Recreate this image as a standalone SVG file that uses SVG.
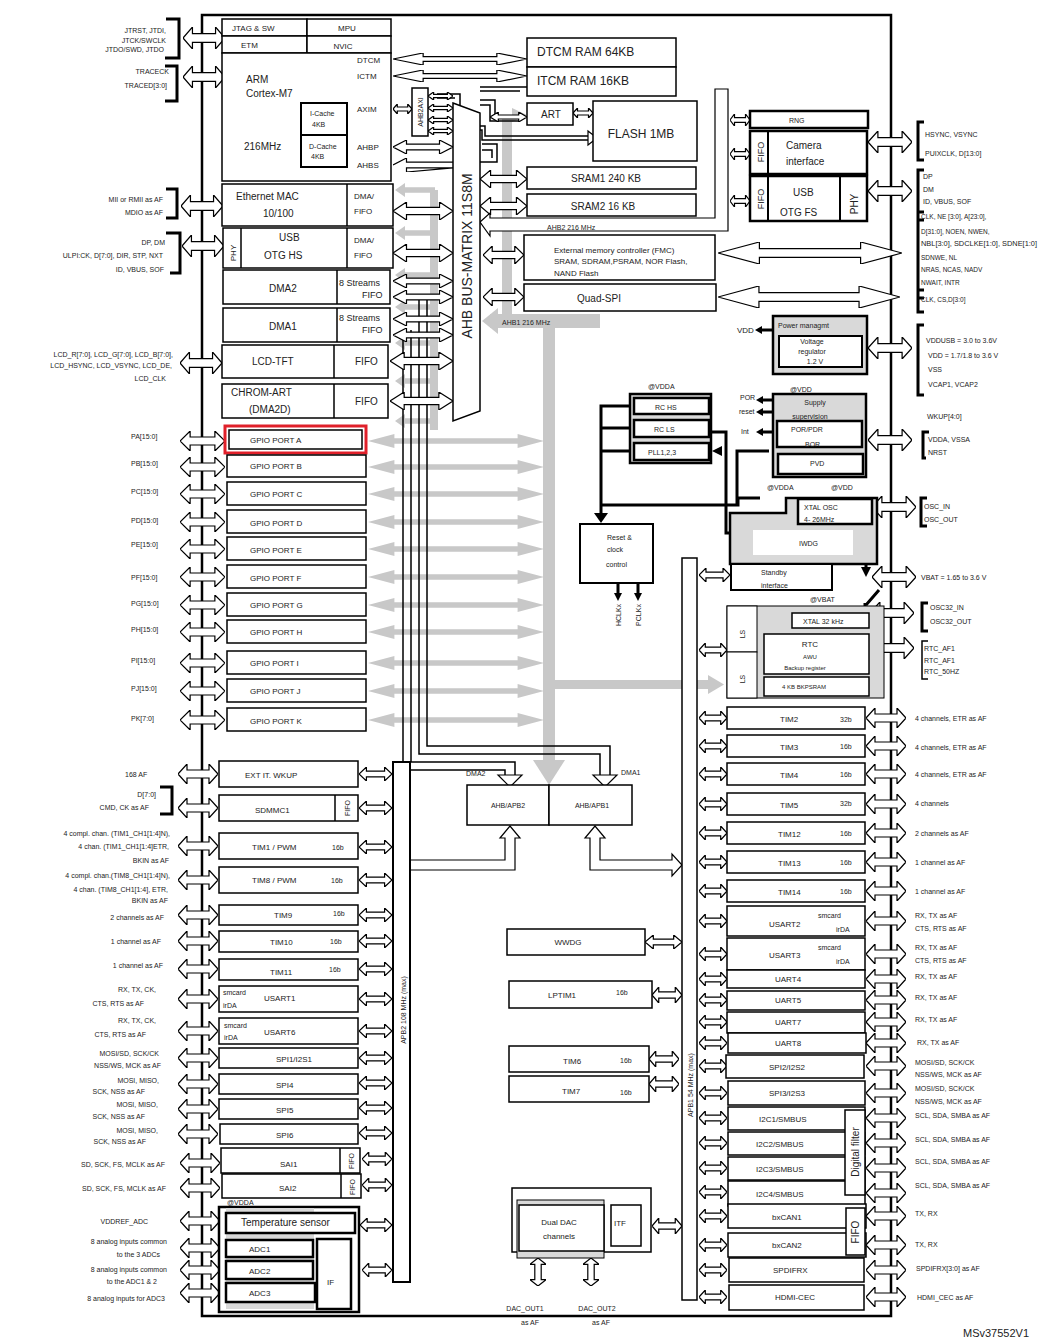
<svg xmlns="http://www.w3.org/2000/svg" xmlns:xlink="http://www.w3.org/1999/xlink" width="1041" height="1341" viewBox="0 0 1041 1341" font-size="8">
<style>
.b{fill:#fff;stroke:#000;stroke-width:1.5}
.bb{fill:#fff;stroke:#000;stroke-width:2.5}
.g{fill:#d9d9d9;stroke:#000;stroke-width:2.5}
.gr{fill:#c8c8c8;stroke:none}
.l{fill:none;stroke:#000;stroke-width:1.5}
.lk{fill:none;stroke:#000;stroke-width:3}
text{font-family:"Liberation Sans",Arial,sans-serif;fill:#222}
.m{font-size:10px}
.n{font-size:12px}
.c{text-anchor:middle}
.e{text-anchor:end}
</style>
<defs>
<symbol id="da" viewBox="0 0 40 20" preserveAspectRatio="none"><path d="M0,10 L9,0 L9,6 L31,6 L31,0 L40,10 L31,20 L31,14 L9,14 L9,20 Z" fill="#fff" stroke="#000" stroke-width="1.2" vector-effect="non-scaling-stroke"/></symbol>
<symbol id="dv" viewBox="0 0 20 40" preserveAspectRatio="none"><path d="M10,0 L0,9 L6,9 L6,31 L0,31 L10,40 L20,31 L14,31 L14,9 L20,9 Z" fill="#fff" stroke="#000" stroke-width="1.2" vector-effect="non-scaling-stroke"/></symbol>
<symbol id="ga" viewBox="0 0 40 20" preserveAspectRatio="none"><path d="M0,10 L6,0 L6,6 L34,6 L34,0 L40,10 L34,20 L34,14 L6,14 L6,20 Z" fill="#c8c8c8"/></symbol>
<symbol id="gl" viewBox="0 0 40 20" preserveAspectRatio="none"><path d="M0,10 L10,0 L10,6 L40,6 L40,14 L10,14 L10,20 Z" fill="#c8c8c8"/></symbol>
<symbol id="la" viewBox="0 0 40 20" preserveAspectRatio="none"><path d="M0,10 L9,0 L9,6 L40,6 M40,14 L9,14 L9,20 Z" fill="#fff" stroke="#000" stroke-width="1.2" vector-effect="non-scaling-stroke"/></symbol>
</defs>

<g id="chip"><rect x="202" y="15" width="689" height="1301" fill="none" stroke="#000" stroke-width="2.5"/></g>

<g id="connectors">
<rect class="gr" x="543" y="320" width="12" height="440"/>
<path class="gr" d="M533,760 L565,760 L549,785 Z"/>
<rect class="gr" x="502" y="118" width="10" height="206"/>
<rect class="gr" x="490" y="314" width="110" height="14"/>
<path class="gr" d="M482,321 L498,308 L498,334 Z"/>
<path class="gr" d="M512,108 L527,115 L512,122 Z"/>
<rect class="gr" x="430" y="190" width="8" height="240"/>
<use href="#gl" x="395" y="183" width="40" height="14"/>
<use href="#gl" x="395" y="226" width="40" height="14"/>
<use href="#gl" x="395" y="268" width="40" height="14"/>
<use href="#gl" x="395" y="300" width="40" height="14"/>
<use href="#gl" x="395" y="336" width="40" height="14"/>
<use href="#gl" x="395" y="374" width="40" height="14"/>
<use href="#gl" x="395" y="414" width="40" height="14"/>
<rect class="gr" x="555" y="680" width="155" height="9"/>
<path class="gr" d="M708,675 L724,684.5 L708,694 Z"/>
<use href="#ga" x="368" y="434" width="176" height="14"/>
<use href="#ga" x="368" y="460" width="176" height="14"/>
<use href="#ga" x="368" y="487" width="176" height="14"/>
<use href="#ga" x="368" y="515" width="176" height="14"/>
<use href="#ga" x="368" y="542" width="176" height="14"/>
<use href="#ga" x="368" y="570" width="176" height="14"/>
<use href="#ga" x="368" y="598" width="176" height="14"/>
<use href="#ga" x="368" y="625" width="176" height="14"/>
<use href="#ga" x="368" y="656" width="176" height="14"/>
<use href="#ga" x="368" y="684" width="176" height="14"/>
<use href="#ga" x="368" y="713" width="176" height="14"/>
<path class="l" d="M403,330 V770 H505 V775"/>
<path class="l" d="M411,330 V762 H515 V775"/>
<path class="l" d="M419,300 V754 H600 V775"/>
<path class="l" d="M427,300 V746 H610 V775"/>
<path d="M498,775 L522,775 L510,787 Z M593,775 L617,775 L605,787 Z" fill="#fff" stroke="#000" stroke-width="1.2"/>
<path d="M410,860 L505,860 L505,838 L500,838 L510,826 L520,838 L515,838 L515,870 L410,870 Z" fill="#fff" stroke="#000" stroke-width="1.2"/>
<path d="M590,838 L585,838 L595,826 L605,838 L600,838 L600,860 L672,860 L672,854 L682,865 L672,876 L672,870 L590,870 Z" fill="#fff" stroke="#000" stroke-width="1.2"/>
<use href="#da" x="393" y="53" width="134" height="12"/>
<use href="#da" x="393" y="70" width="134" height="12"/>
<path class="l" d="M480,87 H527 M480,91 H520"/>
<path class="l" d="M437,94 H460 V108 M437,98 H455"/>
<use href="#da" x="393" y="104" width="19" height="10"/>
<use href="#da" x="428" y="92" width="25" height="8"/>
<use href="#da" x="428" y="104" width="25" height="8"/>
<use href="#da" x="428" y="116" width="25" height="8"/>
<use href="#da" x="428" y="127" width="25" height="8"/>
<path class="l" d="M480,100 H495 V117 H525 M480,105 H490 V121 H520"/>
<use href="#da" x="490" y="112" width="37" height="10"/>
<path class="l" d="M480,126 H485 V136 H590 M480,130 H482 V140 H590"/>
<path d="M588,131 L597,138 L588,145 Z" fill="#fff" stroke="#000" stroke-width="1.2"/>
<use href="#da" x="573" y="108" width="20" height="10"/>
<use href="#da" x="393" y="140" width="60" height="14"/>
<use href="#la" x="393" y="158" width="60" height="14"/>
<path class="l" d="M482,144 H497 V162 H453 M482,150 H492 V158"/>
<use href="#da" x="480" y="170" width="47" height="18"/>
<use href="#da" x="480" y="197" width="47" height="18"/>
<path d="M480,222 L490,213 L490,218 L715,218 L715,89 L728,89 L728,231 L490,231 L490,236 Z" fill="#fff" stroke="#000" stroke-width="1.2"/>
<use href="#da" x="483" y="246" width="41" height="18"/>
<use href="#da" x="483" y="288" width="41" height="18"/>
<use href="#da" x="393" y="202" width="60" height="18"/>
<use href="#da" x="393" y="244" width="60" height="18"/>
<use href="#da" x="393" y="274" width="60" height="14"/>
<use href="#da" x="393" y="290" width="60" height="14"/>
<use href="#da" x="393" y="312" width="60" height="14"/>
<use href="#da" x="393" y="328" width="60" height="14"/>
<use href="#da" x="390" y="352" width="63" height="18"/>
<use href="#da" x="390" y="392" width="63" height="18"/>
<use href="#da" x="730" y="114" width="20" height="12"/>
<use href="#da" x="730" y="148" width="20" height="12"/>
<use href="#da" x="730" y="195" width="20" height="12"/>
<use href="#da" x="868" y="131" width="44" height="22"/>
<use href="#da" x="868" y="180" width="44" height="22"/>
<use href="#da" x="718" y="242" width="184" height="22"/>
<use href="#da" x="718" y="286" width="182" height="22"/>
<use href="#da" x="868" y="337" width="44" height="22"/>
<use href="#da" x="868" y="429" width="44" height="22"/>
<use href="#da" x="872" y="496" width="44" height="22"/>
<use href="#da" x="872" y="566" width="44" height="22"/>
<use href="#da" x="870" y="602" width="44" height="22"/>
<use href="#da" x="870" y="637" width="44" height="22"/>
<use href="#da" x="866" y="708" width="40" height="20"/>
<use href="#da" x="866" y="736" width="40" height="20"/>
<use href="#da" x="866" y="764" width="40" height="20"/>
<use href="#da" x="866" y="794" width="40" height="20"/>
<use href="#da" x="866" y="823" width="40" height="20"/>
<use href="#da" x="866" y="852" width="40" height="20"/>
<use href="#da" x="866" y="881" width="40" height="20"/>
<use href="#da" x="866" y="911" width="40" height="20"/>
<use href="#da" x="866" y="944" width="40" height="20"/>
<use href="#da" x="866" y="969" width="40" height="20"/>
<use href="#da" x="866" y="990" width="40" height="20"/>
<use href="#da" x="866" y="1012" width="40" height="20"/>
<use href="#da" x="866" y="1033" width="40" height="20"/>
<use href="#da" x="866" y="1056" width="40" height="20"/>
<use href="#da" x="866" y="1083" width="40" height="20"/>
<use href="#da" x="866" y="1108" width="40" height="20"/>
<use href="#da" x="866" y="1133" width="40" height="20"/>
<use href="#da" x="866" y="1158" width="40" height="20"/>
<use href="#da" x="866" y="1183" width="40" height="20"/>
<use href="#da" x="866" y="1206" width="40" height="20"/>
<use href="#da" x="866" y="1235" width="40" height="20"/>
<use href="#da" x="866" y="1260" width="40" height="20"/>
<use href="#da" x="866" y="1287" width="40" height="20"/>
<use href="#da" x="699" y="568" width="31" height="14"/>
<use href="#da" x="699" y="643" width="28" height="14"/>
<g id="apb1arrows">
<use href="#da" x="699" y="711" width="28" height="14"/><use href="#da" x="699" y="739" width="28" height="14"/>
<use href="#da" x="699" y="767" width="28" height="14"/><use href="#da" x="699" y="797" width="28" height="14"/>
<use href="#da" x="699" y="826" width="28" height="14"/><use href="#da" x="699" y="855" width="28" height="14"/>
<use href="#da" x="699" y="884" width="28" height="14"/><use href="#da" x="699" y="914" width="28" height="14"/>
<use href="#da" x="699" y="947" width="28" height="14"/><use href="#da" x="699" y="972" width="28" height="14"/>
<use href="#da" x="699" y="993" width="28" height="14"/><use href="#da" x="699" y="1015" width="28" height="14"/>
<use href="#da" x="699" y="1036" width="28" height="14"/><use href="#da" x="699" y="1059" width="28" height="14"/>
<use href="#da" x="699" y="1086" width="28" height="14"/><use href="#da" x="699" y="1111" width="28" height="14"/>
<use href="#da" x="699" y="1136" width="28" height="14"/><use href="#da" x="699" y="1161" width="28" height="14"/>
<use href="#da" x="699" y="1185" width="28" height="14"/><use href="#da" x="699" y="1209" width="28" height="14"/>
<use href="#da" x="699" y="1238" width="28" height="14"/><use href="#da" x="699" y="1263" width="28" height="14"/>
<use href="#da" x="699" y="1290" width="28" height="14"/>
</g>
<use href="#da" x="645" y="935" width="37" height="14"/>
<use href="#da" x="652" y="987" width="30" height="16"/>
<use href="#da" x="649" y="1051" width="30" height="16"/>
<use href="#da" x="649" y="1076" width="30" height="16"/>
<use href="#da" x="652" y="1218" width="30" height="16"/>
<use href="#dv" x="530" y="1258" width="16" height="28"/>
<use href="#dv" x="583" y="1258" width="16" height="28"/>
<g id="apb2arrows">
<use href="#da" x="359" y="767" width="33" height="14"/><use href="#da" x="359" y="801" width="33" height="14"/>
<use href="#da" x="359" y="840" width="33" height="14"/><use href="#da" x="359" y="873" width="33" height="14"/>
<use href="#da" x="359" y="908" width="33" height="14"/><use href="#da" x="359" y="934" width="33" height="14"/>
<use href="#da" x="359" y="962" width="33" height="14"/><use href="#da" x="359" y="992" width="33" height="14"/>
<use href="#da" x="359" y="1024" width="33" height="14"/><use href="#da" x="359" y="1051" width="33" height="14"/>
<use href="#da" x="359" y="1076" width="33" height="14"/><use href="#da" x="359" y="1101" width="33" height="14"/>
<use href="#da" x="359" y="1126" width="33" height="14"/><use href="#da" x="362" y="1152" width="30" height="14"/>
<use href="#da" x="362" y="1178" width="30" height="14"/><use href="#da" x="360" y="1218" width="32" height="14"/>
<use href="#da" x="362" y="1263" width="30" height="14"/>
</g>
<g id="leftpins">
<use href="#da" x="183" y="27" width="42" height="22"/><use href="#da" x="183" y="66" width="42" height="22"/>
<use href="#da" x="181" y="195" width="42" height="22"/><use href="#da" x="182" y="235" width="42" height="22"/>
<use href="#da" x="180" y="352" width="42" height="22"/>
<use href="#da" x="180" y="431" width="45" height="20"/><use href="#da" x="180" y="457" width="45" height="20"/>
<use href="#da" x="180" y="484" width="45" height="20"/><use href="#da" x="180" y="512" width="45" height="20"/>
<use href="#da" x="180" y="539" width="45" height="20"/><use href="#da" x="180" y="567" width="45" height="20"/>
<use href="#da" x="180" y="595" width="45" height="20"/><use href="#da" x="180" y="622" width="45" height="20"/>
<use href="#da" x="180" y="653" width="45" height="20"/><use href="#da" x="180" y="681" width="45" height="20"/>
<use href="#da" x="180" y="710" width="45" height="20"/>
<use href="#da" x="178" y="764" width="40" height="20"/><use href="#da" x="178" y="798" width="40" height="20"/>
<use href="#da" x="178" y="836" width="40" height="20"/><use href="#da" x="178" y="870" width="40" height="20"/>
<use href="#da" x="178" y="905" width="40" height="20"/><use href="#da" x="178" y="931" width="40" height="20"/>
<use href="#da" x="178" y="959" width="40" height="20"/><use href="#da" x="178" y="989" width="40" height="20"/>
<use href="#da" x="178" y="1021" width="40" height="20"/><use href="#da" x="178" y="1048" width="40" height="20"/>
<use href="#da" x="178" y="1074" width="40" height="20"/><use href="#da" x="178" y="1099" width="40" height="20"/>
<use href="#da" x="178" y="1124" width="40" height="20"/><use href="#da" x="180" y="1153" width="40" height="20"/>
<use href="#da" x="180" y="1178" width="40" height="20"/><use href="#da" x="180" y="1211" width="40" height="20"/>
<use href="#da" x="180" y="1238" width="40" height="20"/><use href="#da" x="180" y="1260" width="40" height="20"/>
<use href="#da" x="180" y="1283" width="40" height="20"/>
</g>
<path class="lk" d="M166,19 H179 V58 H165 M165,66 H177 V101 H165 M166,189 H177 V218 H166 M166,233 H180 V273 H170 M160,787 H172 V814 H160"/>
<path class="lk" d="M924,122 H918 V160 H924 M924,170 H918 V220 H924 M924,212 H918 V298 H924 M924,290 H918 V312 H924 M924,325 H918 V395 H924 M929,432 H923 V458 H926 M927,498 H921 V526 H927 M928,603 H922 V631 H928"/>
<path class="l" d="M928,641 H922 V679 H928"/>
<path class="lk" d="M634,406 H601 V520 M634,428 H601 M634,451 H601 M601,505 H738 V498 H760"/>
<path d="M594,513 L608,513 L601,523 Z" fill="#000"/>
<path class="lk" d="M709,432 H726 V533 H742"/>
<path d="M741,528 L751,533 L741,538 Z" fill="#000"/>
<path class="lk" d="M769,451 H737 V505"/>
<path d="M712,451 L722,446 L722,456 Z" fill="#000"/>
<path class="lk" d="M618,583 V596 M638,583 V596"/>
<path d="M614,593 L622,593 L618,601 Z M634,593 L642,593 L638,601 Z" fill="#000"/>
<path class="lk" d="M773,400 H762 M773,412 H762 M773,432 H762"/>
<path d="M763,396 L756,400 L763,404 Z M763,408 L756,412 L763,416 Z M763,428 L756,432 L763,436 Z M762,326 L755,330 L762,334 Z" fill="#000"/>
<path class="lk" d="M773,330 H761"/>
<path class="lk" d="M866,558 V568 M865,603 L865,608 M879,590 L866,605"/>
<path d="M861,567 L871,567 L866,577 Z" fill="#000"/>
<path class="l" d="M792,620 H778 V630"/>
<path d="M774,628 L782,628 L778,635 Z" fill="#000"/>
</g>

<g id="core">
<rect class="b" x="222" y="19" width="85" height="17"/><text x="232" y="31">JTAG &amp; SW</text>
<rect class="b" x="307" y="19" width="84" height="17"/><text class="c" x="347" y="31">MPU</text>
<rect class="b" x="222" y="36" width="85" height="17"/><text x="241" y="48">ETM</text>
<rect class="b" x="307" y="36" width="84" height="17"/><text class="c" x="343" y="49">NVIC</text>
<rect class="b" x="222" y="53" width="169" height="128"/>
<text class="m" x="246" y="83">ARM</text><text class="m" x="246" y="97">Cortex-M7</text><text class="m" x="244" y="150">216MHz</text>
<rect fill="#fff" stroke="#000" stroke-width="2" x="301" y="103" width="46" height="64"/><line x1="301" y1="135" x2="347" y2="135" stroke="#000" stroke-width="2"/>
<text x="310" y="116" font-size="7">I-Cache</text><text x="312" y="127" font-size="7">4KB</text>
<text x="309" y="149" font-size="7">D-Cache</text><text x="311" y="159" font-size="7">4KB</text>
<text x="357" y="63">DTCM</text><text x="357" y="79">ICTM</text><text x="357" y="112">AXIM</text><text x="357" y="150">AHBP</text><text x="357" y="168">AHBS</text>
</g>
<g id="ahb2axi"><rect class="b" x="412" y="88" width="16" height="48"/><text class="c" transform="translate(423,112) rotate(-90)" font-size="7">AHB2AXI</text></g>
<g id="busmatrix"><path class="b" d="M453,103 L480,113 L480,411 L453,421 Z"/><text class="c" transform="translate(472,256) rotate(-90)" font-size="14">AHB BUS-MATRIX 11S8M</text></g>
<g id="dtcm"><rect class="b" x="527" y="38" width="149" height="29"/><text class="n" x="537" y="56">DTCM RAM 64KB</text></g>
<g id="itcm"><rect class="b" x="527" y="67" width="149" height="29"/><text class="n" x="537" y="85">ITCM RAM 16KB</text></g>
<g id="art"><rect class="b" x="527" y="103" width="46" height="22"/><text class="m c" x="551" y="118">ART</text></g>
<g id="flash"><rect class="b" x="593" y="101" width="104" height="60"/><text class="n c" x="641" y="138">FLASH 1MB</text></g>
<g id="sram1"><rect class="b" x="527" y="167" width="169" height="22"/><text class="m c" x="606" y="182">SRAM1 240 KB</text></g>
<g id="sram2"><rect class="b" x="527" y="194" width="169" height="22"/><text class="m c" x="603" y="210">SRAM2 16 KB</text></g>
<text x="547" y="230" font-size="7">AHB2 216 MHz</text>
<g id="fmc"><rect class="b" x="524" y="235" width="191" height="45"/><text x="554" y="253">External memory controller (FMC)</text><text x="554" y="264">SRAM, SDRAM,PSRAM, NOR Flash,</text><text x="554" y="276">NAND Flash</text></g>
<g id="qspi"><rect class="b" x="524" y="284" width="192" height="27"/><text class="m" x="577" y="302">Quad-SPI</text></g>
<text x="502" y="325" font-size="7">AHB1 216 MHz</text>

<g id="eth"><rect class="b" x="222" y="184" width="171" height="42"/><line class="l" x1="347" y1="184" x2="347" y2="226"/><text class="m" x="236" y="200">Ethernet MAC</text><text class="m" x="263" y="217">10/100</text><text x="354" y="199">DMA/</text><text x="354" y="214">FIFO</text></g>
<g id="usbhs"><rect class="b" x="223" y="228" width="170" height="40"/><line class="l" x1="241" y1="228" x2="241" y2="268"/><line class="l" x1="347" y1="228" x2="347" y2="268"/><text class="c" transform="translate(236,253) rotate(-90)">PHY</text><text class="m" x="279" y="241">USB</text><text class="m" x="264" y="259">OTG HS</text><text x="354" y="243">DMA/</text><text x="354" y="258">FIFO</text></g>
<g id="dma2"><rect class="b" x="223" y="270" width="167" height="34"/><line class="l" x1="337" y1="270" x2="337" y2="304"/><text class="m" x="269" y="292">DMA2</text><text x="339" y="286" font-size="9">8 Streams</text><text x="362" y="298" font-size="9">FIFO</text></g>
<g id="dma1"><rect class="b" x="223" y="308" width="167" height="34"/><line class="l" x1="337" y1="308" x2="337" y2="342"/><text class="m" x="269" y="330">DMA1</text><text x="339" y="321" font-size="9">8 Streams</text><text x="362" y="333" font-size="9">FIFO</text></g>
<g id="lcd"><rect class="b" x="222" y="345" width="166" height="33"/><line class="l" x1="334" y1="345" x2="334" y2="378"/><text class="m" x="252" y="365">LCD-TFT</text><text class="m" x="355" y="365">FIFO</text></g>
<g id="chrom"><rect class="b" x="222" y="384" width="166" height="34"/><line class="l" x1="334" y1="384" x2="334" y2="418"/><text class="m" x="231" y="396">CHROM-ART</text><text class="m" x="249" y="413">(DMA2D)</text><text class="m" x="355" y="405">FIFO</text></g>

<g id="gpioA"><rect x="225" y="426" width="141" height="27" fill="none" stroke="#e0202a" stroke-width="3"/><rect class="b" x="229" y="430" width="133" height="19"/><text x="250" y="443">GPIO PORT A</text></g>
<g id="gpioB"><rect class="b" x="227" y="455" width="139" height="22"/><text x="250" y="469">GPIO PORT B</text></g>
<g id="gpioC"><rect class="b" x="227" y="482" width="139" height="23"/><text x="250" y="497">GPIO PORT C</text></g>
<g id="gpioD"><rect class="b" x="227" y="510" width="139" height="23"/><text x="250" y="526">GPIO PORT D</text></g>
<g id="gpioE"><rect class="b" x="227" y="537" width="139" height="23"/><text x="250" y="553">GPIO PORT E</text></g>
<g id="gpioF"><rect class="b" x="227" y="565" width="139" height="23"/><text x="250" y="581">GPIO PORT F</text></g>
<g id="gpioG"><rect class="b" x="227" y="593" width="139" height="23"/><text x="250" y="608">GPIO PORT G</text></g>
<g id="gpioH"><rect class="b" x="227" y="620" width="139" height="23"/><text x="250" y="635">GPIO PORT H</text></g>
<g id="gpioI"><rect class="b" x="227" y="651" width="139" height="23"/><text x="250" y="666">GPIO PORT I</text></g>
<g id="gpioJ"><rect class="b" x="227" y="679" width="139" height="23"/><text x="250" y="694">GPIO PORT J</text></g>
<g id="gpioK"><rect class="b" x="227" y="708" width="139" height="23"/><text x="250" y="724">GPIO PORT K</text></g>

<g id="ahbapb2"><rect class="b" x="467" y="785" width="82" height="40"/><text class="c" x="508" y="808" font-size="7">AHB/APB2</text></g>
<g id="ahbapb1"><rect class="b" x="549" y="785" width="83" height="40"/><text class="c" x="592" y="808" font-size="7">AHB/APB1</text></g>
<text x="466" y="776" font-size="7">DMA2</text><text x="621" y="775" font-size="7">DMA1</text>

<g id="apb2"><rect fill="#fff" stroke="#000" stroke-width="2" x="393" y="762" width="17" height="520"/><text class="c" transform="translate(406,1010) rotate(-90)" font-size="7">APB2   108 MHz (max)</text></g>
<g id="apb1"><rect fill="#fff" stroke="#000" stroke-width="1.5" x="682" y="558" width="15" height="742"/><text class="c" transform="translate(693,1085) rotate(-90)" font-size="7">APB1   54 MHz (max)</text></g>

<g id="extit"><rect class="b" x="219" y="761" width="139" height="26"/><text x="245" y="778">EXT IT. WKUP</text></g>
<g id="sdmmc"><rect class="b" x="219" y="795" width="139" height="26"/><line class="l" x1="335" y1="795" x2="335" y2="821"/><text x="255" y="813">SDMMC1</text><text class="c" transform="translate(350,808) rotate(-90)" font-size="7">FIFO</text></g>
<g id="tim1"><rect class="b" x="219" y="833" width="139" height="26"/><text x="252" y="850">TIM1 / PWM</text><text x="332" y="850" font-size="7">16b</text></g>
<g id="tim8"><rect class="b" x="219" y="867" width="139" height="26"/><text x="252" y="883">TIM8 / PWM</text><text x="331" y="883" font-size="7">16b</text></g>
<g id="tim9"><rect class="b" x="219" y="905" width="139" height="20"/><text x="274" y="918">TIM9</text><text x="333" y="916" font-size="7">16b</text></g>
<g id="tim10"><rect class="b" x="219" y="931" width="139" height="21"/><text x="270" y="945">TIM10</text><text x="330" y="944" font-size="7">16b</text></g>
<g id="tim11"><rect class="b" x="219" y="959" width="139" height="21"/><text x="270" y="975">TIM11</text><text x="329" y="972" font-size="7">16b</text></g>
<g id="usart1"><rect class="b" x="219" y="986" width="139" height="26"/><text x="223" y="995" font-size="7">smcard</text><text x="223" y="1008" font-size="7">irDA</text><text x="264" y="1001">USART1</text></g>
<g id="usart6"><rect class="b" x="219" y="1018" width="139" height="26"/><text x="224" y="1028" font-size="7">smcard</text><text x="224" y="1040" font-size="7">irDA</text><text x="264" y="1035">USART6</text></g>
<g id="spi1"><rect class="b" x="219" y="1048" width="139" height="20"/><text x="276" y="1062">SPI1/I2S1</text></g>
<g id="spi4"><rect class="b" x="219" y="1074" width="139" height="20"/><text x="276" y="1088">SPI4</text></g>
<g id="spi5"><rect class="b" x="219" y="1099" width="139" height="20"/><text x="276" y="1113">SPI5</text></g>
<g id="spi6"><rect class="b" x="220" y="1124" width="138" height="20"/><text x="276" y="1138">SPI6</text></g>
<g id="sai1"><rect class="b" x="221" y="1148" width="139" height="25"/><line class="l" x1="340" y1="1148" x2="340" y2="1173"/><text x="280" y="1167">SAI1</text><text class="c" transform="translate(354,1161) rotate(-90)" font-size="7">FIFO</text></g>
<g id="sai2"><rect class="b" x="222" y="1174" width="139" height="24"/><line class="l" x1="341" y1="1174" x2="341" y2="1198"/><text x="279" y="1191">SAI2</text><text class="c" transform="translate(355,1187) rotate(-90)" font-size="7">FIFO</text></g>
<text x="227" y="1205" font-size="7">@VDDA</text>
<g id="adc"><rect class="bb" x="219" y="1207" width="140" height="105"/>
<rect fill="#d9d9d9" x="226" y="1208" width="88" height="101"/>
<rect class="bb" x="226" y="1213" width="129" height="20"/><text class="m" x="241" y="1226">Temperature sensor</text>
<rect class="bb" x="226" y="1240" width="87" height="17"/><text x="249" y="1252">ADC1</text>
<rect class="bb" x="226" y="1261" width="87" height="18"/><text x="249" y="1274">ADC2</text>
<rect class="bb" x="226" y="1283" width="89" height="19"/><text x="249" y="1296">ADC3</text>
<rect class="bb" x="317" y="1239" width="34" height="70"/><text x="327" y="1285">IF</text></g>

<g id="wwdg"><rect class="b" x="507" y="929" width="138" height="26"/><text class="c" x="568" y="945">WWDG</text></g>
<g id="lptim1"><rect class="b" x="509" y="981" width="143" height="27"/><text x="548" y="998">LPTIM1</text><text x="616" y="995" font-size="7">16b</text></g>
<g id="tim6"><rect class="b" x="509" y="1046" width="140" height="26"/><text x="563" y="1064">TIM6</text><text x="620" y="1063" font-size="7">16b</text></g>
<g id="tim7"><rect class="b" x="509" y="1076" width="140" height="26"/><text x="562" y="1094">TIM7</text><text x="620" y="1095" font-size="7">16b</text></g>
<text x="535" y="1195" font-size="7">@VDDA</text>
<g id="dac"><rect class="b" x="512" y="1188" width="139" height="64"/><rect fill="#d9d9d9" stroke="#000" stroke-width="1" x="517" y="1200" width="87" height="58"/><rect class="b" x="519" y="1205" width="85" height="46"/><text class="c" x="559" y="1225">Dual DAC</text><text class="c" x="559" y="1239">channels</text><rect class="b" x="611" y="1205" width="30" height="41"/><text x="614" y="1226">ITF</text></g>
<text class="c" x="525" y="1311" font-size="7">DAC_OUT1</text><text class="c" x="530" y="1325" font-size="7">as AF</text>
<text class="c" x="597" y="1311" font-size="7">DAC_OUT2</text><text class="c" x="601" y="1325" font-size="7">as AF</text>

<g id="tim2"><rect class="b" x="727" y="707" width="138" height="22"/><text x="780" y="722">TIM2</text><text x="840" y="722" font-size="7">32b</text></g>
<g id="tim3"><rect class="b" x="727" y="735" width="138" height="22"/><text x="780" y="750">TIM3</text><text x="840" y="749" font-size="7">16b</text></g>
<g id="tim4"><rect class="b" x="727" y="763" width="138" height="22"/><text x="780" y="778">TIM4</text><text x="840" y="777" font-size="7">16b</text></g>
<g id="tim5"><rect class="b" x="727" y="793" width="138" height="22"/><text x="780" y="808">TIM5</text><text x="840" y="806" font-size="7">32b</text></g>
<g id="tim12"><rect class="b" x="727" y="822" width="138" height="22"/><text x="778" y="837">TIM12</text><text x="840" y="836" font-size="7">16b</text></g>
<g id="tim13"><rect class="b" x="727" y="851" width="138" height="22"/><text x="778" y="866">TIM13</text><text x="840" y="865" font-size="7">16b</text></g>
<g id="tim14"><rect class="b" x="727" y="880" width="138" height="22"/><text x="778" y="895">TIM14</text><text x="840" y="894" font-size="7">16b</text></g>
<g id="usart2"><rect class="b" x="727" y="906" width="138" height="30"/><text x="769" y="927">USART2</text><text x="818" y="918" font-size="7">smcard</text><text x="836" y="932" font-size="7">irDA</text></g>
<g id="usart3"><rect class="b" x="727" y="938" width="138" height="32"/><text x="769" y="958">USART3</text><text x="818" y="950" font-size="7">smcard</text><text x="836" y="964" font-size="7">irDA</text></g>
<g id="uart4"><rect class="b" x="727" y="970" width="138" height="18"/><text x="775" y="982">UART4</text></g>
<g id="uart5"><rect class="b" x="727" y="991" width="138" height="19"/><text x="775" y="1003">UART5</text></g>
<g id="uart7"><rect class="b" x="727" y="1012" width="138" height="21"/><text x="775" y="1025">UART7</text></g>
<g id="uart8"><rect class="b" x="728" y="1033" width="138" height="20"/><text x="775" y="1046">UART8</text></g>
<g id="spi2"><rect class="b" x="726" y="1055" width="138" height="23"/><text x="769" y="1070">SPI2/I2S2</text></g>
<g id="spi3"><rect class="b" x="728" y="1081" width="137" height="24"/><text x="769" y="1096">SPI3/I2S3</text></g>
<g id="i2c1"><rect class="b" x="728" y="1107" width="137" height="23"/><text x="759" y="1122">I2C1/SMBUS</text></g>
<g id="i2c2"><rect class="b" x="728" y="1132" width="137" height="23"/><text x="756" y="1147">I2C2/SMBUS</text></g>
<g id="i2c3"><rect class="b" x="728" y="1157" width="137" height="23"/><text x="756" y="1172">I2C3/SMBUS</text></g>
<g id="i2c4"><rect class="b" x="728" y="1181" width="137" height="25"/><text x="756" y="1197">I2C4/SMBUS</text></g>
<g id="dfilter"><rect class="b" x="845" y="1110" width="20" height="85"/><text class="c" transform="translate(859,1152) rotate(-90)" font-size="10">Digital filter</text></g>
<g id="can1"><rect class="b" x="728" y="1204" width="138" height="24"/><text x="772" y="1220">bxCAN1</text></g>
<g id="can2"><rect class="b" x="728" y="1233" width="138" height="24"/><text x="772" y="1248">bxCAN2</text></g>
<g id="cfifo"><rect class="b" x="846" y="1208" width="19" height="47"/><text class="c" transform="translate(859,1232) rotate(-90)" font-size="10">FIFO</text></g>
<g id="spdif"><rect class="b" x="729" y="1258" width="135" height="24"/><text x="773" y="1273">SPDIFRX</text></g>
<g id="hdmi"><rect class="b" x="729" y="1285" width="135" height="25"/><text x="775" y="1300">HDMI-CEC</text></g>

<g id="rng"><rect class="bb" x="750" y="111" width="118" height="17"/><text x="789" y="123" font-size="7">RNG</text></g>
<g id="camera"><rect class="bb" x="750" y="131" width="117" height="43"/><line x1="768" y1="131" x2="768" y2="174" stroke="#000" stroke-width="2"/><text class="c" transform="translate(764,152) rotate(-90)" font-size="9" fill="#503">FIFO</text><text class="m" x="786" y="149">Camera</text><text class="m" x="786" y="165">interface</text></g>
<g id="usbfs"><rect class="bb" x="750" y="176" width="117" height="45"/><line x1="768" y1="176" x2="768" y2="221" stroke="#000" stroke-width="2"/><line x1="840" y1="176" x2="840" y2="221" stroke="#000" stroke-width="2"/><text class="c" transform="translate(764,199) rotate(-90)" font-size="9" fill="#503">FIFO</text><text class="m" x="793" y="196">USB</text><text class="m" x="780" y="216">OTG FS</text><text class="c" transform="translate(858,204) rotate(-90)" font-size="10">PHY</text></g>

<text x="737" y="333">VDD</text>
<g id="power"><rect class="g" x="773" y="316" width="94" height="58"/><text x="778" y="328" font-size="7">Power managmt</text><rect fill="#fff" stroke="#000" stroke-width="2" x="779" y="336" width="83" height="31"/><text class="c" x="812" y="344" font-size="7">Voltage</text><text class="c" x="812" y="354" font-size="7">regulator</text><text class="c" x="815" y="364" font-size="7">1.2 V</text></g>
<text x="648" y="389" font-size="7">@VDDA</text>
<g id="osc"><rect class="g" x="630" y="394" width="81" height="69"/>
<rect fill="#fff" stroke="#000" stroke-width="2.5" x="634" y="398" width="75" height="16"/><text x="655" y="410" font-size="7">RC     HS</text>
<rect fill="#fff" stroke="#000" stroke-width="2.5" x="634" y="420" width="75" height="17"/><text x="654" y="432" font-size="7">RC     LS</text>
<rect fill="#fff" stroke="#000" stroke-width="2.5" x="634" y="443" width="75" height="17"/><text x="648" y="455" font-size="7">PLL1,2,3</text></g>
<text x="740" y="400" font-size="7">POR</text><text x="739" y="414" font-size="7">reset</text><text x="741" y="434" font-size="7">Int</text>
<text x="790" y="392" font-size="7">@VDD</text>
<g id="supply"><rect class="g" x="773" y="394" width="93" height="83"/><text class="c" x="815" y="405" font-size="7">Supply</text><text class="c" x="810" y="419" font-size="7">supervision</text>
<rect fill="#fff" stroke="#000" stroke-width="2.5" x="777" y="421" width="85" height="26"/><text x="791" y="432" font-size="7">POR/PDR</text><text x="805" y="447" font-size="7">BOR</text>
<rect fill="#fff" stroke="#000" stroke-width="2.5" x="778" y="454" width="85" height="20"/><text x="810" y="466" font-size="7">PVD</text></g>
<text x="767" y="490" font-size="7">@VDDA</text><text x="831" y="490" font-size="7">@VDD</text>
<g id="reset"><rect fill="#fff" stroke="#000" stroke-width="2" x="580" y="524" width="73" height="59"/><text x="607" y="540" font-size="7">Reset &amp;</text><text x="607" y="552" font-size="7">clock</text><text x="606" y="567" font-size="7">control</text></g>
<text class="c" transform="translate(621,615) rotate(-90)" font-size="7">HCLKx</text><text class="c" transform="translate(641,615) rotate(-90)" font-size="7">PCLKx</text>
<g id="iwdg"><path d="M730,513 H786 V498 H877 V564 H730 Z" fill="#d9d9d9" stroke="#000" stroke-width="2.5"/><rect fill="#fff" x="753" y="530" width="100" height="25"/><text x="799" y="546" font-size="7">IWDG</text>
<rect fill="#fff" stroke="#000" stroke-width="2.5" x="798" y="499" width="74" height="25"/><text x="804" y="510" font-size="7">XTAL OSC</text><text x="804" y="522" font-size="7">4- 26MHz</text></g>
<g id="standby"><rect fill="#fff" stroke="#000" stroke-width="2" x="731" y="564" width="101" height="26"/><text x="761" y="575" font-size="7">Standby</text><text x="761" y="588" font-size="7">interface</text></g>
<text x="810" y="602" font-size="7">@VBAT</text>
<g id="vbat"><rect fill="#d9d9d9" stroke="#000" stroke-width="1" x="727" y="606" width="157" height="92"/><rect fill="#fff" stroke="#000" stroke-width="1" x="727" y="606" width="30" height="46"/><rect fill="#fff" stroke="#000" stroke-width="1" x="727" y="652" width="30" height="46"/>
<text class="c" transform="translate(745,634) rotate(-90)" font-size="7">LS</text><text class="c" transform="translate(745,679) rotate(-90)" font-size="7">LS</text>
<rect class="b" x="792" y="613" width="77" height="15"/><text x="803" y="624" font-size="7">XTAL 32 kHz</text>
<rect class="b" x="764" y="634" width="105" height="40"/><text class="c" x="810" y="647" font-size="8">RTC</text><text class="c" x="810" y="659" font-size="6">AWU</text><text class="c" x="805" y="670" font-size="6">Backup register</text>
<rect class="b" x="764" y="677" width="105" height="19"/><text x="782" y="689" font-size="6">4 KB BKPSRAM</text></g>

<g id="leftlabels">
<text class="e" x="166" y="33" font-size="7">JTRST, JTDI,</text><text class="e" x="166" y="43" font-size="7">JTCK/SWCLK</text><text class="e" x="164" y="52" font-size="7">JTDO/SWD, JTDO</text>
<text class="e" x="169" y="74" font-size="7">TRACECK</text><text class="e" x="167" y="88" font-size="7">TRACED[3:0]</text>
<text class="e" x="163" y="202" font-size="7">MII or RMII as AF</text><text class="e" x="163" y="215" font-size="7">MDIO as AF</text>
<text class="e" x="165" y="245" font-size="7">DP, DM</text><text class="e" x="163" y="258" font-size="7">ULPI:CK, D[7:0], DIR, STP, NXT</text><text class="e" x="164" y="272" font-size="7">ID, VBUS, SOF</text>
<text class="e" x="173" y="357" font-size="7">LCD_R[7:0], LCD_G[7:0], LCD_B[7:0],</text><text class="e" x="172" y="368" font-size="7">LCD_HSYNC, LCD_VSYNC, LCD_DE,</text><text class="e" x="166" y="381" font-size="7">LCD_CLK</text>
<text x="131" y="439" font-size="7">PA[15:0]</text><text x="131" y="466" font-size="7">PB[15:0]</text><text x="131" y="494" font-size="7">PC[15:0]</text><text x="131" y="523" font-size="7">PD[15:0]</text><text x="131" y="547" font-size="7">PE[15:0]</text><text x="131" y="580" font-size="7">PF[15:0]</text><text x="131" y="606" font-size="7">PG[15:0]</text><text x="131" y="632" font-size="7">PH[15:0]</text><text x="131" y="663" font-size="7">PI[15:0]</text><text x="131" y="691" font-size="7">PJ[15:0]</text><text x="131" y="721" font-size="7">PK[7:0]</text>
<text x="125" y="777" font-size="7">168 AF</text>
<text class="e" x="156" y="797" font-size="7">D[7:0]</text><text class="e" x="149" y="810" font-size="7">CMD, CK as AF</text>
<text class="e" x="170" y="836" font-size="7">4 compl. chan. (TIM1_CH1[1:4]N),</text><text class="e" x="169" y="849" font-size="7">4 chan. (TIM1_CH1[1:4]ETR,</text><text class="e" x="169" y="863" font-size="7">BKIN as AF</text>
<text class="e" x="170" y="878" font-size="7">4 compl. chan.(TIM8_CH1[1:4]N),</text><text class="e" x="168" y="892" font-size="7">4 chan. (TIM8_CH1[1:4], ETR,</text><text class="e" x="168" y="903" font-size="7">BKIN as AF</text>
<text class="e" x="164" y="920" font-size="7">2 channels as AF</text><text class="e" x="161" y="944" font-size="7">1 channel as AF</text><text class="e" x="163" y="968" font-size="7">1 channel as AF</text>
<text class="e" x="156" y="992" font-size="7">RX, TX, CK,</text><text class="e" x="144" y="1006" font-size="7">CTS, RTS as AF</text>
<text class="e" x="156" y="1023" font-size="7">RX, TX, CK,</text><text class="e" x="146" y="1037" font-size="7">CTS, RTS as AF</text>
<text class="e" x="159" y="1056" font-size="7">MOSI/SD, SCK/CK</text><text class="e" x="161" y="1068" font-size="7">NSS/WS, MCK as AF</text>
<text class="e" x="159" y="1083" font-size="7">MOSI, MISO,</text><text class="e" x="145" y="1094" font-size="7">SCK, NSS as AF</text>
<text class="e" x="158" y="1107" font-size="7">MOSI, MISO,</text><text class="e" x="145" y="1119" font-size="7">SCK, NSS as AF</text>
<text class="e" x="158" y="1133" font-size="7">MOSI, MISO,</text><text class="e" x="146" y="1144" font-size="7">SCK, NSS as AF</text>
<text class="e" x="165" y="1167" font-size="7">SD, SCK, FS, MCLK as AF</text><text class="e" x="166" y="1191" font-size="7">SD, SCK, FS, MCLK as AF</text>
<text class="e" x="148" y="1224" font-size="7">VDDREF_ADC</text>
<text class="e" x="167" y="1244" font-size="7">8 analog inputs common</text><text class="e" x="160" y="1257" font-size="7">to the 3 ADCs</text>
<text class="e" x="167" y="1272" font-size="7">8 analog inputs common</text><text class="e" x="157" y="1284" font-size="7">to the ADC1 &amp; 2</text>
<text class="e" x="165" y="1301" font-size="7">8 analog inputs for ADC3</text>
</g>

<g id="rightlabels">
<text x="925" y="137" font-size="7">HSYNC, VSYNC</text><text x="925" y="156" font-size="7">PUIXCLK, D[13:0]</text>
<text x="923" y="179" font-size="7">DP</text><text x="923" y="192" font-size="7">DM</text><text x="923" y="204" font-size="7">ID, VBUS, SOF</text>
<text x="921" y="219" font-size="6.5">CLK, NE [3:0], A[23:0],</text><text x="921" y="234" font-size="6.5">D[31:0], NOEN, NWEN,</text><text x="921" y="246" font-size="6.5" textLength="116" lengthAdjust="spacingAndGlyphs">NBL[3:0], SDCLKE[1:0], SDNE[1:0]</text><text x="921" y="260" font-size="6.5">SDNWE, NL</text><text x="921" y="272" font-size="6.5">NRAS, NCAS, NADV</text><text x="921" y="285" font-size="6.5">NWAIT, INTR</text><text x="921" y="302" font-size="6.5">CLK, CS,D[3:0]</text>
<text x="926" y="343" font-size="7">VDDUSB = 3.0 to 3.6V</text><text x="928" y="358" font-size="7">VDD = 1.7/1.8 to 3.6 V</text><text x="928" y="372" font-size="7">VSS</text><text x="928" y="387" font-size="7">VCAP1, VCAP2</text>
<text x="927" y="419" font-size="7">WKUP[4:0]</text>
<text x="928" y="442" font-size="7">VDDA, VSSA</text><text x="928" y="455" font-size="7">NRST</text>
<text x="924" y="509" font-size="7">OSC_IN</text><text x="924" y="522" font-size="7">OSC_OUT</text>
<text x="921" y="580" font-size="7">VBAT = 1.65 to 3.6 V</text>
<text x="930" y="610" font-size="7">OSC32_IN</text><text x="930" y="624" font-size="7">OSC32_OUT</text>
<text x="924" y="651" font-size="7">RTC_AF1</text><text x="924" y="663" font-size="7">RTC_AF1</text><text x="924" y="674" font-size="7">RTC_50HZ</text>
<text x="915" y="721" font-size="7">4 channels, ETR as AF</text><text x="915" y="750" font-size="7">4 channels, ETR as AF</text><text x="915" y="777" font-size="7">4 channels, ETR as AF</text><text x="915" y="806" font-size="7">4 channels</text>
<text x="915" y="836" font-size="7">2 channels as AF</text><text x="915" y="865" font-size="7">1 channel as AF</text><text x="915" y="894" font-size="7">1 channel as AF</text>
<text x="915" y="918" font-size="7">RX, TX as AF</text><text x="915" y="931" font-size="7">CTS, RTS as AF</text>
<text x="915" y="950" font-size="7">RX, TX as AF</text><text x="915" y="963" font-size="7">CTS, RTS as AF</text>
<text x="915" y="979" font-size="7">RX, TX as AF</text><text x="915" y="1000" font-size="7">RX, TX as AF</text><text x="915" y="1022" font-size="7">RX, TX as AF</text><text x="917" y="1045" font-size="7">RX, TX as AF</text>
<text x="915" y="1065" font-size="7">MOSI/SD, SCK/CK</text><text x="915" y="1077" font-size="7">NSS/WS, MCK as AF</text>
<text x="915" y="1091" font-size="7">MOSI/SD, SCK/CK</text><text x="915" y="1104" font-size="7">NSS/WS, MCK as AF</text>
<text x="915" y="1118" font-size="7">SCL, SDA, SMBA as AF</text><text x="915" y="1142" font-size="7">SCL, SDA, SMBA as AF</text><text x="915" y="1164" font-size="7">SCL, SDA, SMBA as AF</text><text x="915" y="1188" font-size="7">SCL, SDA, SMBA as AF</text>
<text x="915" y="1216" font-size="7">TX, RX</text><text x="915" y="1247" font-size="7">TX, RX</text>
<text x="916" y="1271" font-size="7">SPDIFRX[3:0] as AF</text><text x="917" y="1300" font-size="7">HDMI_CEC as AF</text>
</g>
<text x="963" y="1337" font-size="11">MSv37552V1</text>
</svg>
